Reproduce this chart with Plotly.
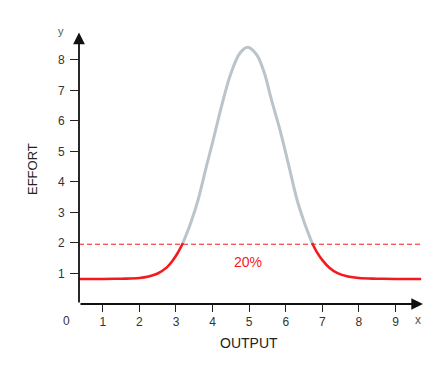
import plotly.graph_objects as go

# Values
left_x = [0.35, 1.0, 1.5, 2.0, 2.25, 2.5, 2.75, 2.92, 3.05, 3.19]
left_y = [0.82, 0.82, 0.83, 0.85, 0.90, 1.00, 1.20, 1.44, 1.68, 2.0]

mid_x = [3.19, 3.4, 3.6, 3.83, 4.0, 4.29, 4.5, 4.75, 4.96, 5.2, 5.4, 5.61, 5.85, 6.09, 6.3, 6.5, 6.72]
mid_y = [2.0, 2.65, 3.4, 4.5, 5.3, 6.69, 7.56, 8.23, 8.42, 8.18, 7.63, 6.69, 5.67, 4.5, 3.45, 2.7, 2.0]

right_x = [6.72, 6.85, 7.0, 7.2, 7.4, 7.7, 8.0, 8.5, 9.0, 9.7]
right_y = [2.0, 1.70, 1.44, 1.18, 1.02, 0.90, 0.85, 0.83, 0.82, 0.82]

threshold = 1.96
threshold_x = [0.35, 9.7]
label_text = "20%"
label_pos = (4.96, 1.38)

x_ticks = [1, 2, 3, 4, 5, 6, 7, 8, 9]
y_ticks = [1, 2, 3, 4, 5, 6, 7, 8]

RED = "#f5191c"
GREY = "#b9c4cb"
FONT = "Liberation Sans, Arial, sans-serif"

# plot area in window pixels (page body adds an 8px offset)
PL, PR, PT, PB = 79, 423, 31, 304
OFF = 8
W, H = 443, 373


def px(sx):
    return (sx - PL) / (PR - PL)


def py(sy):
    return (PB - sy) / (PB - PT)


fig = go.Figure()
fig.add_trace(go.Scatter(x=threshold_x, y=[threshold, threshold], mode="lines",
                         line=dict(color=RED, width=1, dash="5px,3px"), hoverinfo="skip"))
fig.add_trace(go.Scatter(x=mid_x, y=mid_y, mode="lines", line_shape="spline",
                         line=dict(color=GREY, width=3)))
fig.add_trace(go.Scatter(x=left_x, y=left_y, mode="lines", line_shape="spline",
                         line=dict(color=RED, width=2.6)))
fig.add_trace(go.Scatter(x=right_x, y=right_y, mode="lines", line_shape="spline",
                         line=dict(color=RED, width=2.6)))

x0, x1 = 0.35, 9.75
y0, y1 = 0.0, 8.95

small = dict(family=FONT, size=12, color="#333")
C = dict(xanchor="center", yanchor="middle", showarrow=False)
annotations = [
    dict(x=x1, y=0, ax=x0, ay=0, xref="x", yref="y", axref="x", ayref="y",
         showarrow=True, arrowhead=2, arrowsize=1.3, arrowwidth=1.8, arrowcolor="#111", text=""),
    dict(x=x0, y=8.9, ax=x0, ay=0, xref="x", yref="y", axref="x", ayref="y",
         showarrow=True, arrowhead=2, arrowsize=1.3, arrowwidth=1.8, arrowcolor="#111", text=""),
    dict(x=px(66), y=py(321), xref="paper", yref="paper", text="0", font=small, **C),
    dict(x=px(418), y=py(320), xref="paper", yref="paper", text="x",
         font=dict(family=FONT, size=12, color="#555"), **C),
    dict(x=px(61), y=py(31), xref="paper", yref="paper", text="y",
         font=dict(family=FONT, size=11, color="#555"), **C),
    dict(x=label_pos[0], y=label_pos[1], xref="x", yref="y", text=label_text,
         font=dict(family=FONT, size=14, color=RED), **C),
    dict(x=px(32), y=py(169), xref="paper", yref="paper", text="EFFORT", textangle=-90,
         font=dict(family=FONT, size=13, color="#222"), **C),
    dict(x=px(249), y=py(343), xref="paper", yref="paper", text="OUTPUT",
         font=dict(family=FONT, size=14, color="#222"), **C),
]

fig.update_layout(
    width=W, height=H,
    margin=dict(l=PL - OFF, r=W - (PR - OFF), t=PT - OFF, b=H - (PB - OFF), autoexpand=False),
    paper_bgcolor="white", plot_bgcolor="white",
    showlegend=False,
    annotations=annotations,
    xaxis=dict(range=[x0, x1], tickvals=x_ticks, ticks="outside", ticklen=7, tickwidth=1,
               tickcolor="#222", showgrid=False, zeroline=False, showline=False,
               automargin=False, tickfont=small),
    yaxis=dict(range=[y0, y1], tickvals=y_ticks, ticks="outside", ticklen=8, tickwidth=1,
               tickcolor="#222", showgrid=False, zeroline=False, showline=False,
               automargin=False, tickfont=small, ticklabelstandoff=3),
)

fig.write_html("out.html")
